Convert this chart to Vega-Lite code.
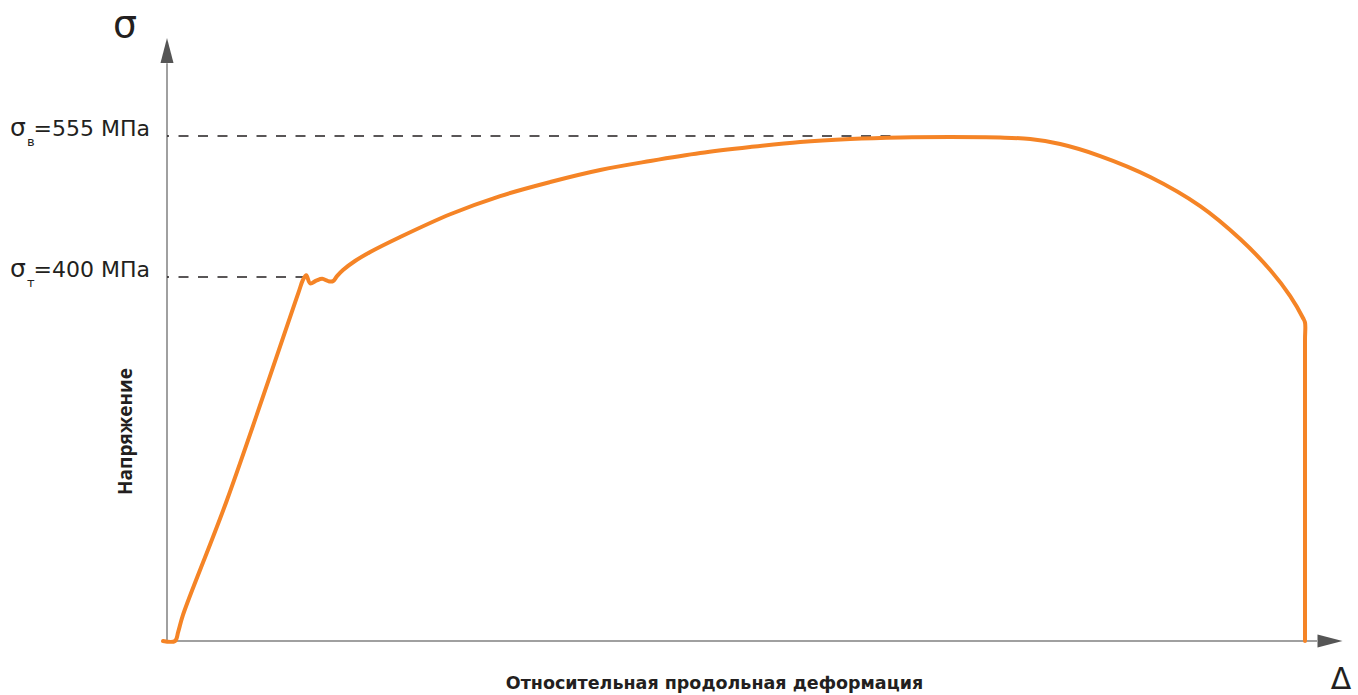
{
  "$schema": "https://vega.github.io/schema/vega-lite/v6.json",
  "width": 1176,
  "height": 606,
  "autosize": {"type": "none"},
  "padding": {"left": 167, "top": 35, "right": 15, "bottom": 54},
  "background": "white",
  "config": {
    "view": {"stroke": null},
    "axis": {"domain": false, "ticks": false, "labels": false, "grid": false}
  },
  "datasets": {
    "curve": [
      {"i": 0, "strain": -0.1, "stress": 0},
      {"i": 1, "strain": 0.2, "stress": 0},
      {"i": 2, "strain": 0.28, "stress": 10},
      {"i": 3, "strain": 0.4, "stress": 28.6},
      {"i": 4, "strain": 1.5, "stress": 155},
      {"i": 5, "strain": 3.28, "stress": 382},
      {"i": 6, "strain": 3.4, "stress": 397},
      {"i": 7, "strain": 3.48, "stress": 402},
      {"i": 8, "strain": 3.58, "stress": 393},
      {"i": 9, "strain": 3.73, "stress": 396},
      {"i": 10, "strain": 3.88, "stress": 398},
      {"i": 11, "strain": 4.03, "stress": 395.5},
      {"i": 12, "strain": 4.15, "stress": 395.5},
      {"i": 13, "strain": 4.25, "stress": 401},
      {"i": 14, "strain": 4.4, "stress": 407.7},
      {"i": 15, "strain": 4.7, "stress": 417.6},
      {"i": 16, "strain": 5.08, "stress": 427.5},
      {"i": 17, "strain": 5.83, "stress": 444},
      {"i": 18, "strain": 7.08, "stress": 469},
      {"i": 19, "strain": 8.33, "stress": 489},
      {"i": 20, "strain": 9.58, "stress": 504.4},
      {"i": 21, "strain": 10.83, "stress": 517.6},
      {"i": 22, "strain": 12.08, "stress": 527.5},
      {"i": 23, "strain": 13.33, "stress": 536.3},
      {"i": 24, "strain": 14.58, "stress": 542.9},
      {"i": 25, "strain": 15.83, "stress": 548.4},
      {"i": 26, "strain": 17.08, "stress": 551.6},
      {"i": 27, "strain": 18.33, "stress": 553.3},
      {"i": 28, "strain": 19.58, "stress": 553.8},
      {"i": 29, "strain": 20.83, "stress": 553.3},
      {"i": 30, "strain": 21.58, "stress": 551.6},
      {"i": 31, "strain": 22.33, "stress": 546.2},
      {"i": 32, "strain": 23.33, "stress": 533},
      {"i": 33, "strain": 24.58, "stress": 510},
      {"i": 34, "strain": 25.83, "stress": 478},
      {"i": 35, "strain": 26.83, "stress": 441.8},
      {"i": 36, "strain": 27.58, "stress": 407.7},
      {"i": 37, "strain": 28.08, "stress": 379},
      {"i": 38, "strain": 28.4, "stress": 355},
      {"i": 39, "strain": 28.45, "stress": 350},
      {"i": 40, "strain": 28.45, "stress": 330},
      {"i": 41, "strain": 28.45, "stress": 0}
    ],
    "levels": [
      {"sub": "т", "stress": 400, "start": 0, "strain": 3.4, "label": "=400 МПа"},
      {"sub": "в", "stress": 555, "start": 0, "strain": 18.18, "label": "=555 МПа"}
    ],
    "axes": [
      {"strain": 0, "stress": 0, "strain2": 0, "stress2": 635},
      {"strain": 0, "stress": 0, "strain2": 28.75, "stress2": 0}
    ],
    "yhead": [{"strain": 0, "stress": 649}],
    "xhead": [{"strain": 29.075, "stress": 0}],
    "ysym": [{"strain": -1.05, "stress": 663.7, "sym": "σ"}],
    "xsym": [{"strain": 29.35, "stress": -52.7, "sym": "Δ"}]
  },
  "layer": [
    {
      "data": {"name": "axes"},
      "mark": {"type": "rule", "color": "#808080", "strokeWidth": 1.5},
      "encoding": {
        "x": {"field": "strain", "type": "quantitative"},
        "y": {"field": "stress", "type": "quantitative"},
        "x2": {"field": "strain2"},
        "y2": {"field": "stress2"}
      }
    },
    {
      "data": {"name": "levels"},
      "mark": {"type": "rule", "color": "#231F20", "strokeWidth": 1.5, "strokeDash": [10, 9.5], "strokeDashOffset": 8},
      "encoding": {
        "x": {"field": "start", "type": "quantitative"},
        "x2": {"field": "strain"},
        "y": {"field": "stress", "type": "quantitative"}
      }
    },
    {
      "data": {"name": "curve"},
      "mark": {"type": "line", "color": "#F58426", "strokeWidth": 4, "strokeCap": "round", "strokeJoin": "round", "interpolate": "catmull-rom"},
      "encoding": {
        "x": {
          "field": "strain", "type": "quantitative",
          "scale": {"domain": [0, 29.4], "nice": false, "zero": false},
          "axis": {
            "title": "Относительная продольная деформация",
            "titleFont": "DejaVu Sans", "titleFontWeight": "bold", "titleFontSize": 17.5,
            "titleColor": "#231F20", "titleX": 547, "titleY": 42,
            "titleBaseline": "middle", "titleAlign": "center"
          }
        },
        "y": {
          "field": "stress", "type": "quantitative",
          "scale": {"domain": [0, 666], "nice": false, "zero": false},
          "axis": {
            "title": "Напряжение",
            "titleFont": "Open Sans", "titleFontWeight": "bold", "titleFontSize": 19,
            "titleColor": "#231F20", "titleX": -42, "titleY": 396, "titleAngle": -90,
            "titleBaseline": "middle", "titleAlign": "center"
          }
        },
        "order": {"field": "i", "type": "quantitative"}
      }
    },
    {
      "data": {"name": "levels"},
      "mark": {"type": "text", "align": "right", "baseline": "alphabetic", "dx": -17, "font": "DejaVu Sans", "fontSize": 22, "color": "#231F20"},
      "encoding": {
        "x": {"field": "start", "type": "quantitative"},
        "y": {"field": "stress", "type": "quantitative"},
        "text": {"field": "label"}
      }
    },
    {
      "data": {"name": "levels"},
      "mark": {"type": "text", "text": "σ", "align": "left", "baseline": "alphabetic", "dx": -157, "font": "DejaVu Sans", "fontSize": 25, "color": "#231F20"},
      "encoding": {
        "x": {"field": "start", "type": "quantitative"},
        "y": {"field": "stress", "type": "quantitative"}
      }
    },
    {
      "data": {"name": "levels"},
      "mark": {"type": "text", "align": "left", "baseline": "alphabetic", "dx": -140, "dy": 10, "font": "DejaVu Sans", "fontSize": 13, "color": "#231F20"},
      "encoding": {
        "x": {"field": "start", "type": "quantitative"},
        "y": {"field": "stress", "type": "quantitative"},
        "text": {"field": "sub"}
      }
    },
    {
      "data": {"name": "ysym"},
      "mark": {"type": "text", "align": "center", "baseline": "alphabetic", "font": "DejaVu Sans", "fontSize": 38, "color": "#231F20"},
      "encoding": {
        "x": {"field": "strain", "type": "quantitative"},
        "y": {"field": "stress", "type": "quantitative"},
        "text": {"field": "sym"}
      }
    },
    {
      "data": {"name": "xsym"},
      "mark": {"type": "text", "align": "center", "baseline": "alphabetic", "font": "DejaVu Sans", "fontSize": 30, "color": "#231F20"},
      "encoding": {
        "x": {"field": "strain", "type": "quantitative"},
        "y": {"field": "stress", "type": "quantitative"},
        "text": {"field": "sym"}
      }
    },
    {
      "data": {"name": "yhead"},
      "mark": {"type": "point", "shape": "M0,-1L0.52,1L-0.52,1Z", "size": 625, "filled": true, "color": "#555555", "opacity": 1},
      "encoding": {
        "x": {"field": "strain", "type": "quantitative"},
        "y": {"field": "stress", "type": "quantitative"}
      }
    },
    {
      "data": {"name": "xhead"},
      "mark": {"type": "point", "shape": "M1,0L-1,-0.52L-1,0.52Z", "size": 625, "filled": true, "color": "#555555", "opacity": 1},
      "encoding": {
        "x": {"field": "strain", "type": "quantitative"},
        "y": {"field": "stress", "type": "quantitative"}
      }
    }
  ]
}
